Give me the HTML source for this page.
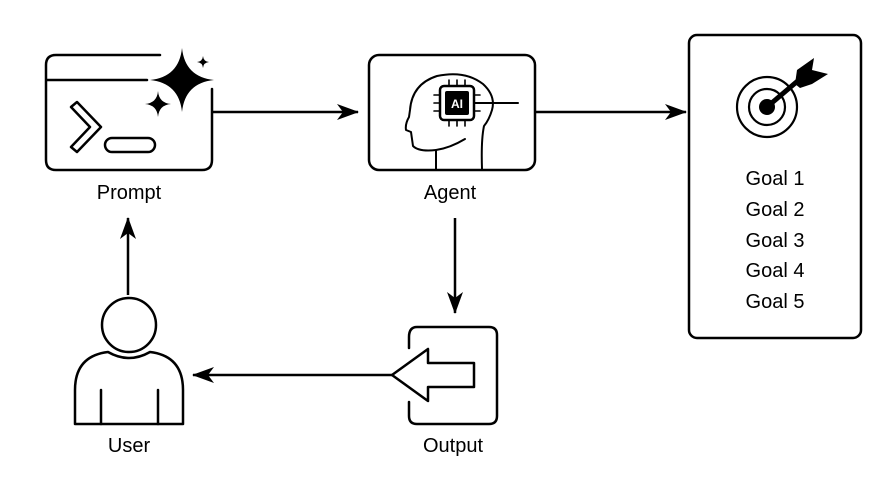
<!DOCTYPE html>
<html><head><meta charset="utf-8"><style>body{margin:0;background:#fff}svg{display:block}</style></head><body>
<svg width="896" height="500" viewBox="0 0 896 500" xmlns="http://www.w3.org/2000/svg" font-family="Liberation Sans, Arial, sans-serif">
<defs><marker id="a" markerWidth="22" markerHeight="16" refX="21" refY="8" orient="auto" markerUnits="userSpaceOnUse"><path d="M0,0 L22,8 L0,16 L6,8 z" fill="#000"/></marker></defs>
<g fill="none" stroke="#000" stroke-width="2.5" stroke-linecap="round" stroke-linejoin="round">
<!-- Prompt -->
<path d="M160,55 H56 Q46,55 46,65 V160 Q46,170 56,170 H202 Q212,170 212,160 V89"/>
<line x1="47" y1="80" x2="147" y2="80"/>
<path d="M71,107 L77,102 L101,127 L77,152 L71,147 L90,127 Z" stroke-width="2.5"/>
<rect x="105" y="138" width="50" height="14" rx="7"/>
<!-- Agent -->
<rect x="369" y="55" width="166" height="115" rx="10"/>
<path d="M436,169 V150 Q419,152 413,146 L411,132 L406,130 Q405,124 409,117 L410,110 Q412,84 437,76 Q465,70 483,84 Q496,96 492,110 Q489,120 484,126 Q481,140 482,169" stroke-width="2"/>
<path d="M436,150 Q450,148 465,139" stroke-width="2"/>
<rect x="440" y="86" width="34" height="34" rx="4"/>
<g stroke-width="1.6"><path d="M449,86 V80 M457,86 V80 M465,86 V80 M449,120 V126 M457,120 V126 M465,120 V126 M440,95 H434 M440,103 H434 M440,111 H434 M474,95 H480 M474,111 H480"/></g>
<line x1="474" y1="103" x2="518" y2="103" stroke-width="2"/>
<!-- Goals -->
<rect x="689" y="35" width="172" height="303" rx="8"/>
<circle cx="767" cy="107" r="30" stroke-width="2.2"/>
<circle cx="767" cy="107" r="18" stroke-width="2.2"/>
<!-- Output -->
<path d="M409,348 V337 Q409,327 417,327 H489 Q497,327 497,335 V416 Q497,424 489,424 H417 Q409,424 409,416 V402"/>
<path d="M392,375 L428,349 V363 H474 V387 H428 V401 Z"/>
<!-- User -->
<circle cx="129" cy="325" r="27"/>
<path d="M75,424 V390 Q75,356 108,352 Q129,364 150,352 Q183,356 183,390 V424 Z"/>
<line x1="101" y1="390" x2="101" y2="424"/><line x1="158" y1="390" x2="158" y2="424"/>
</g>
<g fill="#000">
<path d="M182,48 Q185,77 214,80 Q185,83 182,112 Q179,83 150,80 Q179,77 182,48 Z"/>
<path d="M158,91 Q159,103 171,104 Q159,105 158,117 Q157,105 145,104 Q157,103 158,91 Z"/>
<path d="M203,56 Q203.5,61.5 209,62 Q203.5,62.5 203,68 Q202.5,62.5 197,62 Q202.5,61.5 203,56 Z"/>
<rect x="445" y="91" width="24" height="24" rx="2"/>
<circle cx="767" cy="107" r="8"/>
<path d="M767,107 L800,79" stroke="#000" stroke-width="5"/>
<path d="M795,84 L797,70 L814,58 L812,70 L828,74 L812,84 L800,88 Z"/>
</g>
<text x="457" y="108" font-size="12" font-weight="bold" fill="#fff" text-anchor="middle">AI</text>
<!-- connectors -->
<g stroke="#000" stroke-width="2.5" fill="none">
<line x1="212" y1="112" x2="358" y2="112" marker-end="url(#a)"/>
<line x1="535" y1="112" x2="686" y2="112" marker-end="url(#a)"/>
<line x1="455" y1="218" x2="455" y2="313" marker-end="url(#a)"/>
<line x1="392" y1="375" x2="193" y2="375" marker-end="url(#a)"/>
<line x1="128" y1="295" x2="128" y2="218" marker-end="url(#a)"/>
</g>
<g font-size="20" fill="#000" text-anchor="middle">
<text x="129" y="199">Prompt</text>
<text x="450" y="199">Agent</text>
<text x="129" y="452">User</text>
<text x="453" y="452">Output</text>
<text x="775" y="185">Goal 1</text>
<text x="775" y="216">Goal 2</text>
<text x="775" y="247">Goal 3</text>
<text x="775" y="277">Goal 4</text>
<text x="775" y="308">Goal 5</text>
</g>
</svg>
</body></html>
